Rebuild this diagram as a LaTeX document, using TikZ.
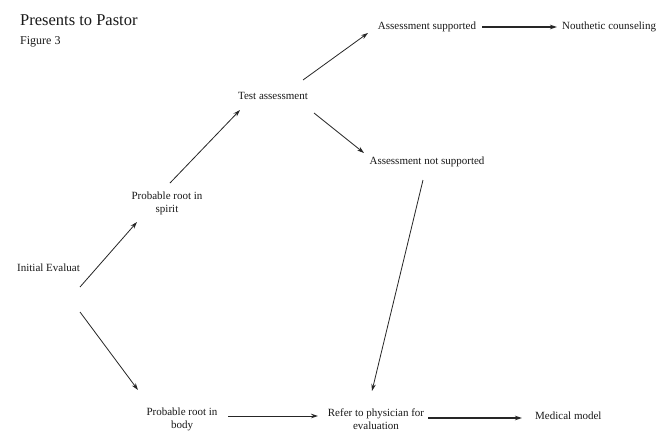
\documentclass[tikz,border=0pt]{standalone}
\usepackage{fontspec}
\setmainfont{Liberation Serif}
\usetikzlibrary{arrows.meta}
\begin{document}
\begin{tikzpicture}[x=1pt,y=-1pt,
  lbl/.style={inner sep=0pt, font=\fontsize{11}{13}\selectfont, align=center, text=black!90},
  arr/.style={draw=black!85, line width=0.8pt, -{Stealth[length=7pt,width=4.5pt]}},
  thickarr/.style={arr, line width=1.4pt}]
\path[fill=white, use as bounding box] (0,0) rectangle (671,439);
\node[lbl, anchor=west, font=\fontsize{16.5}{18}\selectfont] (title) at (20,20) {Presents to Pastor};
\node[lbl, anchor=west, font=\fontsize{12}{14}\selectfont] (fig) at (20,42) {Figure 3};
\node[lbl] (supp) at (427,27) {Assessment supported};
\node[lbl, anchor=west] (nouth) at (562,27) {Nouthetic counseling};
\node[lbl] (test) at (273,96) {Test assessment};
\node[lbl] (notsupp) at (427,162) {Assessment not supported};
\node[lbl] (spirit) at (167,203) {Probable root in\\spirit};
\node[lbl, anchor=west] (init) at (17,268) {Initial Evaluat};
\node[lbl] (body) at (182,419) {Probable root in\\body};
\node[lbl] (refer) at (376,419) {Refer to physician for\\evaluation};
\node[lbl, anchor=west] (med) at (535,416) {Medical model};

\draw[arr] ([shift={(31.5,19)}]init.center) -- ([shift={(-30,19)}]spirit.center);
\draw[arr] ([shift={(31.5,44)}]init.center) -- ([shift={(-44,-29)}]body.center);
\draw[arr] ([shift={(3,-20)}]spirit.center) -- ([shift={(-33,14)}]test.center);
\draw[arr] ([shift={(30,-16)}]test.center) -- ([shift={(-59,6)}]supp.center);
\draw[arr] ([shift={(41,17)}]test.center) -- ([shift={(-63,-9)}]notsupp.center);
\draw[thickarr] ([shift={(55,0)}]supp.center) -- ([shift={(-5,0)}]nouth.west);
\draw[arr] ([shift={(-4,18)}]notsupp.center) -- ([shift={(-4,-28)}]refer.center);
\draw[arr] ([shift={(46,-3)}]body.center) -- ([shift={(-58,-3)}]refer.center);
\draw[thickarr] ([shift={(52,-1)}]refer.center) -- ([shift={(-13,2)}]med.west);
\end{tikzpicture}
\end{document}
